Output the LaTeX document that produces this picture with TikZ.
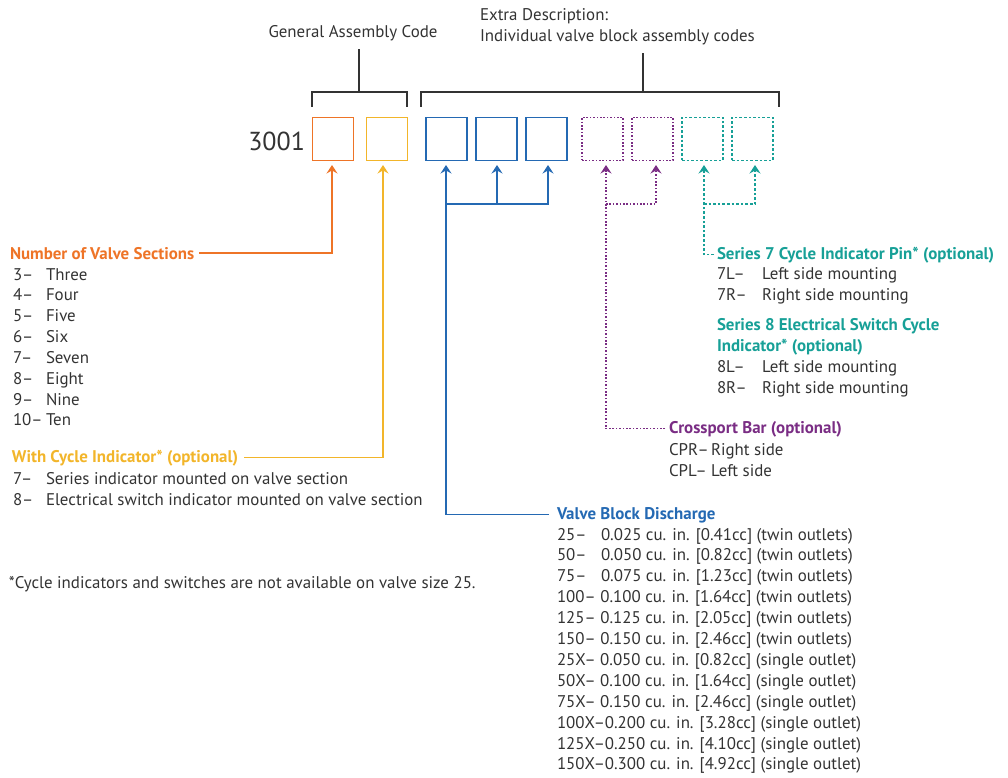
\documentclass[tikz,border=0pt]{standalone}
\usepackage{fontspec}
\setmainfont{PT Sans}
\usetikzlibrary{arrows.meta}
\definecolor{cOr}{HTML}{EE7427}
\definecolor{cYe}{HTML}{F2B52A}
\definecolor{cBl}{HTML}{2469B3}
\definecolor{cPu}{HTML}{7A2D84}
\definecolor{cTe}{HTML}{17A097}
\definecolor{cTx}{HTML}{333333}
\begin{document}
\begin{tikzpicture}[x=1pt,y=-1pt,
  every node/.style={inner sep=0pt, outer sep=0pt, text=cTx},
  txt/.style={anchor=base west, font=\fontsize{16.9}{20}\selectfont},
  hd/.style={anchor=base west, font=\fontsize{16.9}{20}\selectfont\bfseries},
  box/.style={draw, line width=1.4pt, minimum width=41pt, minimum height=43pt},
  dbox/.style={box, line width=1.3pt},
  brk/.style={draw=cTx, line width=1.2pt},
  arr/.style={line width=1.3pt, -{Stealth[length=8.5pt,width=11pt,inset=3pt]}},
  pdots/.style={dash pattern=on 1.6pt off 1.8pt},
  tdash/.style={dash pattern=on 2.6pt off 2pt}]
\useasboundingbox (0,0) rectangle (1008,778);

% top labels
\node[anchor=base, font=\fontsize{16.9}{20}\selectfont] (gac) at (353,38) {General Assembly Code};
\node[txt] (ed1) at (480,21) {Extra Description:};
\node[txt] (ed2) at (480,42) {Individual valve block assembly codes};
\node[anchor=base east, font=\fontsize{26}{30}\selectfont] (code) at (305,150) {3001};

% boxes
\node[box, draw=cOr] (b1) at (333,139) {};
\node[box, draw=cYe] (b2) at (387,139) {};
\node[box, draw=cBl] (b3) at (446.5,139) {};
\node[box, draw=cBl] (b4) at (496.5,139) {};
\node[box, draw=cBl] (b5) at (546.5,139) {};
\node[dbox, pdots, draw=cPu] (b6) at (602.5,139) {};
\node[dbox, pdots, draw=cPu] (b7) at (652.5,139) {};
\node[dbox, tdash, draw=cTe] (b8) at (702.5,139) {};
\node[dbox, tdash, draw=cTe] (b9) at (752.5,139) {};

% brackets
\coordinate (k1a) at (312,107); \coordinate (k1b) at (407,107); \coordinate (k1m) at (359,92);
\coordinate (k2a) at (421,107); \coordinate (k2b) at (779,107); \coordinate (k2m) at (643,92);
\draw[brk] (k1a) -- (312,92) -- (407,92) -- (k1b);
\draw[brk] (k1m) -- ([yshift=-8pt]k1m |- gac.south);
\draw[brk] (k2a) -- (421,92) -- (779,92) -- (k2b);
\draw[brk] (k2m) -- ([yshift=-8pt]k2m |- ed2.south);

% left list: number of valve sections
\node[hd, text=cOr] (nvs) at (10,259) {Number of Valve Sections};
\foreach \c/\d [count=\i from 0] in {3--/Three,4--/Four,5--/Five,6--/Six,7--/Seven,8--/Eight,9--/Nine,10--/Ten}{
  \node[txt] (nvc\i) at (13,{280+20.85*\i}) {\c};
  \node[txt] (nvd\i) at (46,{280+20.85*\i}) {\d};
}
\node[hd, text=cYe] (wci) at (12,462) {With Cycle Indicator* (optional)};
\node[txt] (wc1) at (13,484) {7--};
\node[txt] (wd1) at (46,484) {Series indicator mounted on valve section};
\node[txt] (wc2) at (13,505) {8--};
\node[txt] (wd2) at (46,505) {Electrical switch indicator mounted on valve section};
\node[txt] (foot) at (9,588) {*Cycle indicators and switches are not available on valve size 25.};

% valve block discharge
\node[hd, text=cBl] (vbd) at (557,519) {Valve Block Discharge};
\foreach \c/\d [count=\i from 0] in {25--/0.025 cu. in. [0.41cc] (twin outlets),50--/0.050 cu. in. [0.82cc] (twin outlets),75--/0.075 cu. in. [1.23cc] (twin outlets)}{
  \node[txt] (vc\i) at (557,{540+20.9*\i}) {\c};
  \node[txt] (vd\i) at (601,{540+20.9*\i}) {\d};
}
\foreach \t [count=\i from 3] in {100-- 0.100 cu. in. [1.64cc] (twin outlets),125-- 0.125 cu. in. [2.05cc] (twin outlets),150-- 0.150 cu. in. [2.46cc] (twin outlets),25X-- 0.050 cu. in. [0.82cc] (single outlet),50X-- 0.100 cu. in. [1.64cc] (single outlet),75X-- 0.150 cu. in. [2.46cc] (single outlet),100X--0.200 cu. in. [3.28cc] (single outlet),125X--0.250 cu. in. [4.10cc] (single outlet),150X--0.300 cu. in. [4.92cc] (single outlet)}{
  \node[txt] (vr\i) at (557,{540+20.9*\i}) {\t};
}

% series 7 / 8
\node[hd, text=cTe] (s7) at (717,259) {Series 7 Cycle Indicator Pin* (optional)};
\node[txt] (s7c1) at (717,279) {7L--}; \node[txt] (s7d1) at (762,279) {Left side mounting};
\node[txt] (s7c2) at (717,300) {7R--}; \node[txt] (s7d2) at (762,300) {Right side mounting};
\node[hd, text=cTe] (s8a) at (717,330) {Series 8 Electrical Switch Cycle};
\node[hd, text=cTe] (s8b) at (717,351) {Indicator* (optional)};
\node[txt] (s8c1) at (717,372) {8L--}; \node[txt] (s8d1) at (762,372) {Left side mounting};
\node[txt] (s8c2) at (717,393) {8R--}; \node[txt] (s8d2) at (762,393) {Right side mounting};

% crossport
\node[hd, text=cPu] (cpb) at (669,433) {Crossport Bar (optional)};
\node[txt] (cp1) at (669,455) {CPR--}; \node[txt] (cpd1) at (711,455) {Right side};
\node[txt] (cp2) at (669,476) {CPL--}; \node[txt] (cpd2) at (711,476) {Left side};

% arrow targets
\coordinate (t1) at (332,165); \coordinate (t2) at (383,165);
\coordinate (t3) at (446,165); \coordinate (t4) at (497,165); \coordinate (t5) at (548,165);
\coordinate (t6) at (606,165); \coordinate (t7) at (656,165);
\coordinate (t8) at (704,165); \coordinate (t9) at (755,165);

% connectors
\draw[cOr, arr, shorten <=5pt] (nvs.east) -| (t1);
\draw[cYe, arr, shorten <=6pt] (wci.east) -| (t2);
\draw[cBl, arr, shorten <=8pt] (vbd.west) -| (t3);
\draw[cBl, arr] (446,204) -| (t4);
\draw[cBl, arr] (497,204) -| (t5);
\draw[cPu, arr, pdots, shorten <=4pt] (cpb.west) -| (t6);
\draw[cPu, arr, pdots] (606,204) -| (t7);
\draw[cTe, arr, tdash, shorten <=3pt] (s7.west) -| (t8);
\draw[cTe, arr, tdash] (704,204) -| (t9);
\end{tikzpicture}
\end{document}
